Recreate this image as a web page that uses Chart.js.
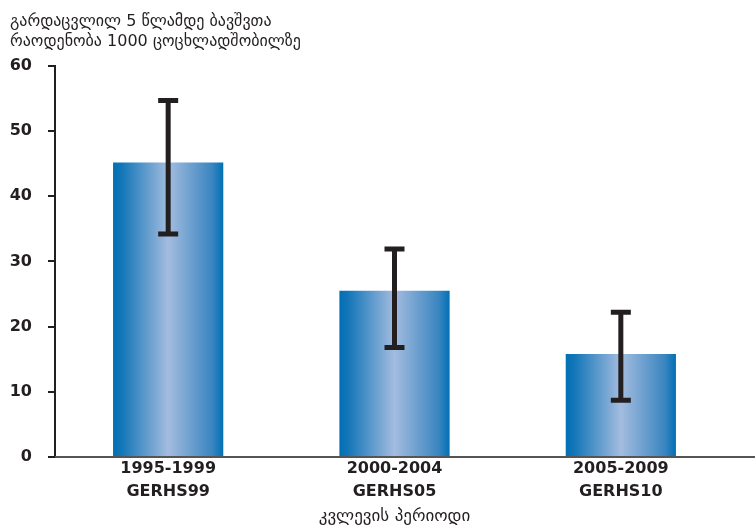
<!DOCTYPE html>
<html>
<head>
<meta charset="utf-8">
<script src="https://cdn.jsdelivr.net/npm/chart.js@4/dist/chart.umd.min.js"></script>
<style>
html,body{margin:0;padding:0;background:#fff;}
#wrap{width:755px;height:526px;}
</style>
</head>
<body>
<div id="wrap"><canvas id="c" width="755" height="526"></canvas></div>
<script>
const categories = [['1995-1999','GERHS99'], ['2000-2004','GERHS05'], ['2005-2009','GERHS10']];
const values = [45.2, 25.5, 15.8];
const errLow = [34.2, 16.8, 8.7];
const errHigh = [54.7, 31.9, 22.2];
const titleLines = ['გარდაცვლილ 5 წლამდე ბავშვთა', 'რაოდენობა 1000 ცოცხლადშობილზე'];
const xTitle = 'კვლევის პერიოდი';

const dark = '#231f20';

const gradientPlugin = {
  id: 'barGradient',
  beforeDatasetsDraw(chart) {
    const ctx = chart.ctx;
    const meta = chart.getDatasetMeta(0);
    meta.data.forEach(el => {
      const l = el.x - el.width / 2, r = el.x + el.width / 2;
      const g = ctx.createLinearGradient(l, 0, r, 0);
      g.addColorStop(0, '#0070b4');
      g.addColorStop(0.08, '#1476b8');
      g.addColorStop(0.5, '#a3bcdf');
      g.addColorStop(0.9, '#3a85c0');
      g.addColorStop(1, '#0070b4');
      el.options = Object.assign({}, el.options, { backgroundColor: g });
    });
  }
};

const errorPlugin = {
  id: 'errorBars',
  beforeDatasetsDraw(chart) {
    const ctx = chart.ctx;
    const a = chart.chartArea;
    const yb = Math.round(a.bottom);
    ctx.save();
    ctx.strokeStyle = '#555';
    ctx.lineWidth = 2;
    ctx.beginPath();
    ctx.moveTo(a.left, yb);
    ctx.lineTo(chart.width, yb);
    ctx.stroke();
    ctx.restore();
  },
  afterDatasetsDraw(chart) {
    const ctx = chart.ctx;
    const y = chart.scales.y;
    const meta = chart.getDatasetMeta(0);
    ctx.save();
    ctx.strokeStyle = dark;
    ctx.lineWidth = 5;
    ctx.lineCap = 'butt';
    meta.data.forEach((el, i) => {
      const x = el.x;
      const yl = y.getPixelForValue(errLow[i]);
      const yh = y.getPixelForValue(errHigh[i]);
      ctx.beginPath();
      ctx.moveTo(x, yh); ctx.lineTo(x, yl);
      ctx.moveTo(x - 10, yh); ctx.lineTo(x + 10, yh);
      ctx.moveTo(x - 10, yl); ctx.lineTo(x + 10, yl);
      ctx.stroke();
    });
    ctx.restore();
  }
};

new Chart(document.getElementById('c'), {
  type: 'bar',
  data: {
    labels: categories,
    datasets: [{
      data: values,
      backgroundColor: () => '#0070b4',
      borderWidth: 0,
      categoryPercentage: 1,
      barPercentage: 0.487
    }]
  },
  options: {
    responsive: false,
    animation: false,
    layout: { padding: { left: 10, right: 21, top: 0, bottom: 0 } },
    plugins: {
      legend: { display: false },
      tooltip: { enabled: false },
      title: {
        display: true,
        text: titleLines,
        align: 'start',
        color: dark,
        font: { family: 'DejaVu Sans', size: 16, weight: 'normal', lineHeight: 1.25 },
        padding: { top: 12, bottom: 14 }
      }
    },
    scales: {
      x: {
        afterFit: s => { s.paddingLeft = 0; s.paddingRight = 0; },
        grid: { display: false, drawTicks: false },
        border: { display: false },
        ticks: {
          color: dark,
          font: { family: 'DejaVu Sans', size: 16, weight: 'bold', lineHeight: 1.45 },
          padding: 0,
          maxRotation: 0
        },
        title: {
          display: true,
          text: xTitle,
          color: dark,
          font: { family: 'DejaVu Sans', size: 17, weight: 'normal', lineHeight: 1.1 },
          padding: { top: 4, bottom: 0 }
        }
      },
      y: {
        afterFit: s => { s.width = 45; },
        min: 0,
        max: 60,
        ticks: {
          stepSize: 10,
          color: dark,
          font: { family: 'DejaVu Sans', size: 16, weight: 'bold' },
          padding: 16
        },
        grid: { drawOnChartArea: false, drawTicks: true, tickLength: 7, color: dark, lineWidth: 2 },
        border: { display: true, color: dark, width: 2 }
      }
    }
  },
  plugins: [gradientPlugin, errorPlugin]
});
</script>
</body>
</html>
